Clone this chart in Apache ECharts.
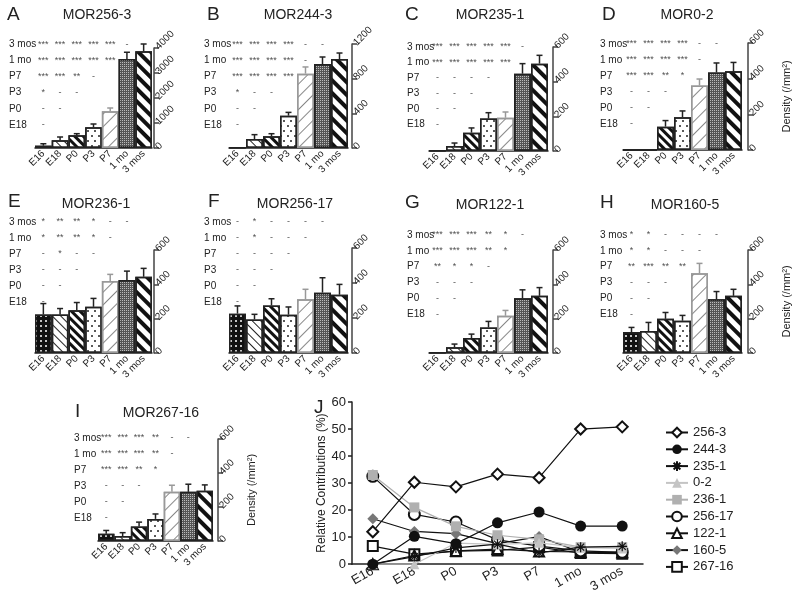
<!DOCTYPE html>
<html><head><meta charset="utf-8">
<script src="https://cdn.jsdelivr.net/npm/echarts@6/dist/echarts.min.js"></script>
<style>html,body{margin:0;padding:0;background:#fff}#c{width:800px;height:595px}</style>
</head><body><div id="c"></div>
<script>
// ---------- DATA ----------
const ages = ['E16', 'E18', 'P0', 'P3', 'P7', '1 mo', '3 mos'];
const sigRows = ['E18', 'P0', 'P3', 'P7', '1 mo', '3 mos'];
const panelNames = ['MOR256-3', 'MOR244-3', 'MOR235-1', 'MOR0-2', 'MOR236-1', 'MOR256-17', 'MOR122-1', 'MOR160-5', 'MOR267-16'];
const panelLetters = ['A', 'B', 'C', 'D', 'E', 'F', 'G', 'H', 'I'];
const yMaxes = [4000, 1200, 600, 600, 600, 600, 600, 600, 600];
const ySteps = [1000, 400, 200, 200, 200, 200, 200, 200, 200];

const density256_3 = [93, 307, 507, 827, 1467, 3560, 3870];
const sem256_3 = [77, 133, 66, 133, 133, 270, 290];
const density244_3 = [5, 104, 135, 373, 858, 969, 1027];
const sem244_3 = [0, 50, 30, 38, 77, 81, 69];
const density235_1 = [3, 29, 106, 187, 192, 446, 504];
const sem235_1 = [0, 17, 27, 34, 33, 58, 48];
const density0_2 = [0, 0, 131, 184, 362, 435, 441];
const sem0_2 = [0, 0, 34, 35, 36, 53, 50];
const density236_1 = [224, 224, 249, 269, 419, 425, 444];
const sem236_1 = [64, 35, 45, 49, 39, 52, 49];
const density256_17 = [225, 192, 272, 219, 307, 345, 333];
const sem256_17 = [44, 29, 38, 44, 57, 85, 59];
const density122_1 = [3, 33, 87, 149, 217, 319, 333];
const sem122_1 = [0, 19, 23, 35, 31, 49, 48];
const density160_5 = [122, 128, 199, 188, 464, 313, 333];
const sem160_5 = [27, 50, 37, 31, 58, 45, 38];
const density267_16 = [43, 29, 85, 130, 289, 289, 295];
const sem267_16 = [19, 20, 26, 29, 39, 45, 35];

// significance rows: E18, P0, P3, P7, 1 mo, 3 mos
const sig256_3 = [['-'], ['-','-'], ['*','-','-'], ['***','***','**','-'], ['***','***','***','***','***'], ['***','***','***','***','***','-']];
const sig244_3 = [['-'], ['-','-'], ['*','-','-'], ['***','***','***','***'], ['***','***','***','***','-'], ['***','***','***','***','-','-']];
const sig235_1 = [['-'], ['-','-'], ['-','-','-'], ['-','-','-','-'], ['***','***','***','***','***'], ['***','***','***','***','***','-']];
const sig0_2 = [['-'], ['-','-'], ['-','-','-'], ['***','***','**','*'], ['***','***','***','***','-'], ['***','***','***','***','-','-']];
const sig236_1 = [['-'], ['-','-'], ['-','-','-'], ['-','*','-','-'], ['*','**','**','*','-'], ['*','**','**','*','-','-']];
const sig256_17 = [['-'], ['-','-'], ['-','-','-'], ['-','-','-','-'], ['-','*','-','-','-'], ['-','*','-','-','-','-']];
const sig122_1 = [['-'], ['-','-'], ['-','-','-'], ['**','*','*','-'], ['***','***','***','**','*'], ['***','***','***','**','*','-']];
const sig160_5 = [['-'], ['-','-'], ['-','-','-'], ['**','***','**','**'], ['*','*','-','-','-'], ['*','*','-','-','-','-']];
const sig267_16 = [['-'], ['-','-'], ['-','-','-'], ['***','***','**','*'], ['***','***','***','**','-'], ['***','***','***','**','-','-']];

const lineNames = ['256-3', '244-3', '235-1', '0-2', '236-1', '256-17', '122-1', '160-5', '267-16'];
const rc256_3 = [12, 30.3, 28.6, 33.3, 32.0, 50.0, 50.8];
const rc244_3 = [0, 10.3, 7.6, 15.3, 19.3, 14.1, 14.1];
const rc235_1 = [0, 2.8, 6.0, 7.4, 4.2, 6.3, 6.6];
const rc0_2 = [0, 0, 7.8, 7.3, 7.9, 6.1, 5.8];
const rc236_1 = [33, 21, 14, 10.7, 9.2, 6.3, 6.3];
const rc256_17 = [32.5, 18.4, 15.6, 9.0, 6.7, 4.9, 4.4];
const rc122_1 = [0, 3.2, 4.9, 5.6, 4.7, 4.5, 4.4];
const rc160_5 = [16.8, 12.1, 11.3, 7.6, 10.2, 4.4, 4.4];
const rc267_16 = [6.7, 3.7, 4.8, 5.1, 6.3, 4.1, 3.9];
const rcTicks = [0, 60, 10];

// ---------- LAYOUT / STYLE ----------
const densities = [density256_3, density244_3, density235_1, density0_2, density236_1, density256_17, density122_1, density160_5, density267_16];
const sems = [sem256_3, sem244_3, sem235_1, sem0_2, sem236_1, sem256_17, sem122_1, sem160_5, sem267_16];
const sigs = [sig256_3, sig244_3, sig235_1, sig0_2, sig236_1, sig256_17, sig122_1, sig160_5, sig267_16];
const rcs = [rc256_3, rc244_3, rc235_1, rc0_2, rc236_1, rc256_17, rc122_1, rc160_5, rc267_16];

const L = [
  {bx:35, bw:117, by:48, bh:100, off:2, tt:36, th:97, lab:9, tx:97, ty:15, lx:7, ly:15},
  {bx:229, bw:119, by:44, bh:104, off:4, tt:36, th:97, lab:204, tx:298, ty:15, lx:207, ly:15},
  {bx:429, bw:119, by:47, bh:104, off:5, tt:39, th:93, lab:407, tx:490, ty:15, lx:405, ly:15},
  {bx:623, bw:119, by:43, bh:107, off:6, tt:36, th:96, lab:600, tx:687, ty:15, lx:602, ly:15, yname:33},
  {bx:35, bw:117, by:250, bh:103, off:2, tt:214, th:96, lab:9, tx:96, ty:204, lx:8, ly:202},
  {bx:229, bw:119, by:248, bh:105, off:4, tt:214, th:96, lab:204, tx:295, ty:204, lx:208, ly:202},
  {bx:429, bw:119, by:250, bh:103, off:5, tt:227, th:95, lab:407, tx:490, ty:205, lx:405, ly:203},
  {bx:623, bw:119, by:250, bh:103, off:6, tt:227, th:95, lab:600, tx:685, ty:205, lx:600, ly:203, yname:33},
  {bx:98, bw:115, by:439, bh:102, off:5, tt:430, th:96, lab:74, tx:161, ty:413, lx:75, ly:412, yname:28}
];
const FONT = 'Liberation Sans, Arial, sans-serif';
const TXT = '#222';
const BACK = Math.PI / 4;   // "\" stripes
const FWD = -Math.PI / 4;   // "/" stripes
const looks = [
  {color:'#111', decal:{symbol:'circle', symbolSize:1, color:'#fff', dashArrayX:[2,3], dashArrayY:[2,3], rotation:0}},
  {color:'#fff', decal:{symbol:'rect', symbolSize:1, color:'#222', dashArrayX:[1,0], dashArrayY:[1,5], rotation:BACK}},
  {color:'#fff', decal:{symbol:'rect', symbolSize:1, color:'#111', dashArrayX:[1,0], dashArrayY:[2.5,2.5], rotation:BACK}},
  {color:'#fff', decal:{symbol:'circle', symbolSize:1, color:'#222', dashArrayX:[[1.6,5],[0,3,1.6,2]], dashArrayY:[1.6,3], rotation:0}},
  {color:'#fff', decal:{symbol:'rect', symbolSize:1, color:'#888', dashArrayX:[1,0], dashArrayY:[1,8], rotation:FWD}},
  {color:'#555', decal:{symbol:'rect', symbolSize:1, color:'#bbb', dashArrayX:[1,1], dashArrayY:[1,1], rotation:0}},
  {color:'#fff', decal:{symbol:'rect', symbolSize:1, color:'#111', dashArrayX:[1,0], dashArrayY:[4,5], rotation:BACK}}
];
const borders = ['#222', '#222', '#222', '#222', '#999', '#222', '#222'];

const grid = [], xAxis = [], yAxis = [], series = [], graphic = [];

L.forEach((p, k) => {
  const gb = grid.length;
  grid.push({left:p.bx, top:p.by, width:p.bw, height:p.bh, containLabel:false});
  xAxis.push({gridIndex:gb, type:'category', data:ages,
    axisLine:{show:true, lineStyle:{color:'#222', width:1.5}}, axisTick:{show:false},
    axisLabel:{rotate:45, interval:0, fontSize:10, margin:4, color:TXT, fontFamily:FONT}});
  const ya = {gridIndex:gb, type:'value', position:'right', offset:p.off, min:0, max:yMaxes[k], interval:ySteps[k],
    axisLine:{show:true, lineStyle:{color:'#444', width:1.5}},
    axisTick:{show:true, inside:false, length:5, lineStyle:{color:'#444', width:1.5}},
    splitLine:{show:false},
    axisLabel:{rotate:45, fontSize:10, margin:3, color:TXT, fontFamily:FONT, formatter:(v) => String(v)}};
  if (p.yname) Object.assign(ya, {name:'Density (/mm²)', nameLocation:'middle', nameRotate:90, nameGap:p.yname,
    nameTextStyle:{fontSize:11, color:TXT, fontFamily:FONT}});
  yAxis.push(ya);
  const ai = xAxis.length - 1;
  series.push({type:'bar', xAxisIndex:ai, yAxisIndex:ai, barCategoryGap:'0%', silent:true, z:2,
    data:densities[k].map((v, i) => ({value:v, itemStyle:{color:looks[i].color, decal:looks[i].decal, borderColor:borders[i], borderWidth:1.5}}))});
  series.push({type:'custom', xAxisIndex:ai, yAxisIndex:ai, silent:true, z:5,
    data:densities[k].map((v, i) => [i, v, sems[k][i]]),
    renderItem:(params, api) => {
      const i = api.value(0), v = api.value(1), e = api.value(2);
      if (!e) return null;
      const a = api.coord([i, v]), b = api.coord([i, v + e]);
      const col = i === 4 ? '#999' : '#222';
      return {type:'group', children:[
        {type:'line', shape:{x1:a[0], y1:a[1], x2:b[0], y2:b[1]}, style:{stroke:col, lineWidth:1.5}},
        {type:'line', shape:{x1:b[0]-3, y1:b[1], x2:b[0]+3, y2:b[1]}, style:{stroke:col, lineWidth:1.5}}
      ]};
    }});
  const gt = grid.length;
  grid.push({left:p.bx, top:p.tt, width:p.bw, height:p.th, containLabel:false});
  xAxis.push({gridIndex:gt, type:'category', data:ages, show:false});
  yAxis.push({gridIndex:gt, type:'category', data:sigRows, position:'left',
    axisLine:{show:false}, axisTick:{show:false}, splitLine:{show:false},
    axisLabel:{align:'left', margin:p.bx - p.lab, fontSize:10, color:TXT, fontFamily:FONT}});
  const ti = xAxis.length - 1;
  const cells = [];
  sigs[k].forEach((row, r) => row.forEach((s, c) => cells.push([c, r, s])));
  series.push({type:'scatter', xAxisIndex:ti, yAxisIndex:ti, silent:true, symbolSize:1,
    itemStyle:{color:'rgba(0,0,0,0)'}, data:cells,
    label:{show:true, position:'inside', formatter:(d) => d.value[2], fontSize:9, color:TXT, fontFamily:FONT}});
  graphic.push({type:'text', x:p.tx, y:p.ty, style:{text:panelNames[k], font:'14px ' + FONT, fill:TXT,
    align:'center', verticalAlign:'middle', textAlign:'center', textVerticalAlign:'middle'}});
  graphic.push({type:'text', x:p.lx, y:p.ly, style:{text:panelLetters[k], font:'19px ' + FONT, fill:TXT,
    align:'left', verticalAlign:'middle', textAlign:'left', textVerticalAlign:'middle'}});
});

// ---------- PANEL J ----------
const gj = grid.length;
grid.push({left:352, top:402, width:291, height:164, containLabel:false});
xAxis.push({gridIndex:gj, type:'category', data:ages, boundaryGap:true,
  axisLine:{show:true, lineStyle:{color:'#222', width:1.5}}, axisTick:{show:false},
  axisLabel:{rotate:30, interval:0, fontSize:13, margin:6, color:TXT, fontFamily:FONT}});
yAxis.push({gridIndex:gj, type:'value', min:rcTicks[0], max:rcTicks[1], interval:rcTicks[2],
  axisLine:{show:true, lineStyle:{color:'#222', width:1.5}},
  axisTick:{show:true, length:4, lineStyle:{color:'#222', width:1.5}}, splitLine:{show:false},
  axisLabel:{fontSize:13, margin:6, color:TXT, fontFamily:FONT},
  name:'Relative Contributions (%)', nameLocation:'middle', nameRotate:90, nameGap:24,
  nameTextStyle:{fontSize:12, color:TXT, fontFamily:FONT}});
const ji = xAxis.length - 1;
const asterisk = 'path://M0,5L10,5M5,0L5,10M1.5,1.5L8.5,8.5M8.5,1.5L1.5,8.5';
const jLook = [
  {symbol:'emptyDiamond', size:11, color:'#111', line:'#111'},
  {symbol:'circle', size:11, color:'#111', line:'#111'},
  {symbol:asterisk, size:10, color:'#111', line:'#111', stroke:true},
  {symbol:'triangle', size:10, color:'#c4c4c4', line:'#c4c4c4'},
  {symbol:'rect', size:10, color:'#b0b0b0', line:'#b0b0b0'},
  {symbol:'emptyCircle', size:11, color:'#111', line:'#111'},
  {symbol:'emptyTriangle', size:10, color:'#111', line:'#111'},
  {symbol:'diamond', size:11, color:'#777', line:'#111'},
  {symbol:'emptyRect', size:10, color:'#111', line:'#111'}
];
lineNames.forEach((n, k) => {
  const s = jLook[k];
  const is = {color:s.color};
  if (s.stroke) Object.assign(is, {borderColor:'#111', borderWidth:1.2});
  series.push({type:'line', name:n, xAxisIndex:ji, yAxisIndex:ji, data:rcs[k], symbol:s.symbol, symbolSize:s.size,
    showAllSymbol:true, silent:true, z:10 - k, itemStyle:is, lineStyle:{color:s.line, width:1.2}});
});
graphic.push({type:'text', x:314, y:408, style:{text:'J', font:'19px ' + FONT, fill:TXT,
  align:'left', verticalAlign:'middle', textAlign:'left', textVerticalAlign:'middle'}});

const chart = echarts.init(document.getElementById('c'), null, {renderer:'canvas'});
chart.setOption({
  animation:false, backgroundColor:'#fff',
  textStyle:{fontFamily:FONT},
  grid, xAxis, yAxis, series, graphic,
  legend:{orient:'vertical', left:660, top:421, itemGap:3.8, itemWidth:22, itemHeight:12,
    data:lineNames, textStyle:{fontSize:13, color:TXT, fontFamily:FONT}, selectedMode:false}
});
</script></body></html>
